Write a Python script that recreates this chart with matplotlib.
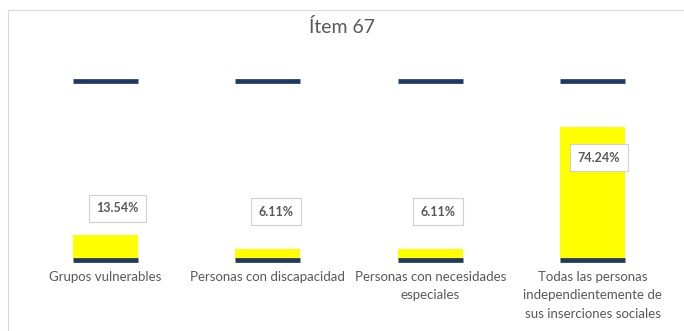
import matplotlib
matplotlib.use("Agg")
import matplotlib.pyplot as plt
from matplotlib.lines import Line2D

# datos del item 67
categorias = ["Grupos vulnerables",
              "Personas con discapacidad",
              "Personas con necesidades\nespeciales",
              "Todas las personas\nindependientemente de\nsus inserciones sociales"]
porcentajes = [13.54, 6.11, 6.11, 74.24]
maximo = [100, 100, 100, 100]
etiquetas = ["13.54%", "6.11%", "6.11%", "74.24%"]

amarillo = "#FFFF00"
azul = "#203864"
gris = "#595959"
plt.rcParams['font.family'] = ['Lato', 'DejaVu Sans']

W, H = 684, 331
fig = plt.figure(figsize=(W / 100, H / 100), dpi=100)
# ejes: x 24..674 px, y 0 -> 259.5 px, 100 -> 80.5 px
ax = fig.add_axes([24 / W, 1 - 259.5 / H, 650 / W, (259.5 - 80.5) / H])

x = range(len(categorias))
ancho = 0.4
ax.bar(x, porcentajes, width=ancho, color=amarillo, zorder=2)
ax.hlines(maximo, [i - ancho / 2 for i in x], [i + ancho / 2 for i in x],
          color=azul, linewidth=3.4, zorder=3, clip_on=False)
ax.hlines([0] * len(categorias), [i - ancho / 2 for i in x], [i + ancho / 2 for i in x],
          color=azul, linewidth=3.4, zorder=3, clip_on=False)

# posicion de las etiquetas (px respecto a la cima de la barra)
desplaz_x = [12, 8, 8, 6]
desplaz_y = [27, 37, 37, -31]
for i, v in enumerate(porcentajes):
    ax.annotate(etiquetas[i], (i, v), xytext=(desplaz_x[i] * 0.72, desplaz_y[i] * 0.72),
                textcoords="offset points", ha="center", va="center",
                fontsize=9, fontweight="bold", color=gris, zorder=4,
                bbox=dict(boxstyle="square,pad=0.6", fc="white", ec="#D0D0D0", lw=0.8))

ax.set_xlim(-0.5, len(categorias) - 0.5)
ax.set_ylim(0, 100)
ax.set_xticks(list(x))
ax.set_xticklabels(categorias, fontsize=9.5, color=gris, linespacing=1.68)
ax.tick_params(axis="x", length=0, pad=8)
ax.set_yticks([])
for s in ax.spines.values():
    s.set_visible(False)

fig.text(0.5, 1 - 27 / H, "Ítem 67", ha="center", va="center", fontsize=14, color=gris)
# marco del grafico (solo borde superior e izquierdo visibles)
fig.add_artist(Line2D([7.5 / W, 7.5 / W, 1], [0, 1 - 10 / H, 1 - 10 / H],
                      transform=fig.transFigure, color="#D9D9D9", lw=0.8))

fig.savefig("out.png", dpi=100)
